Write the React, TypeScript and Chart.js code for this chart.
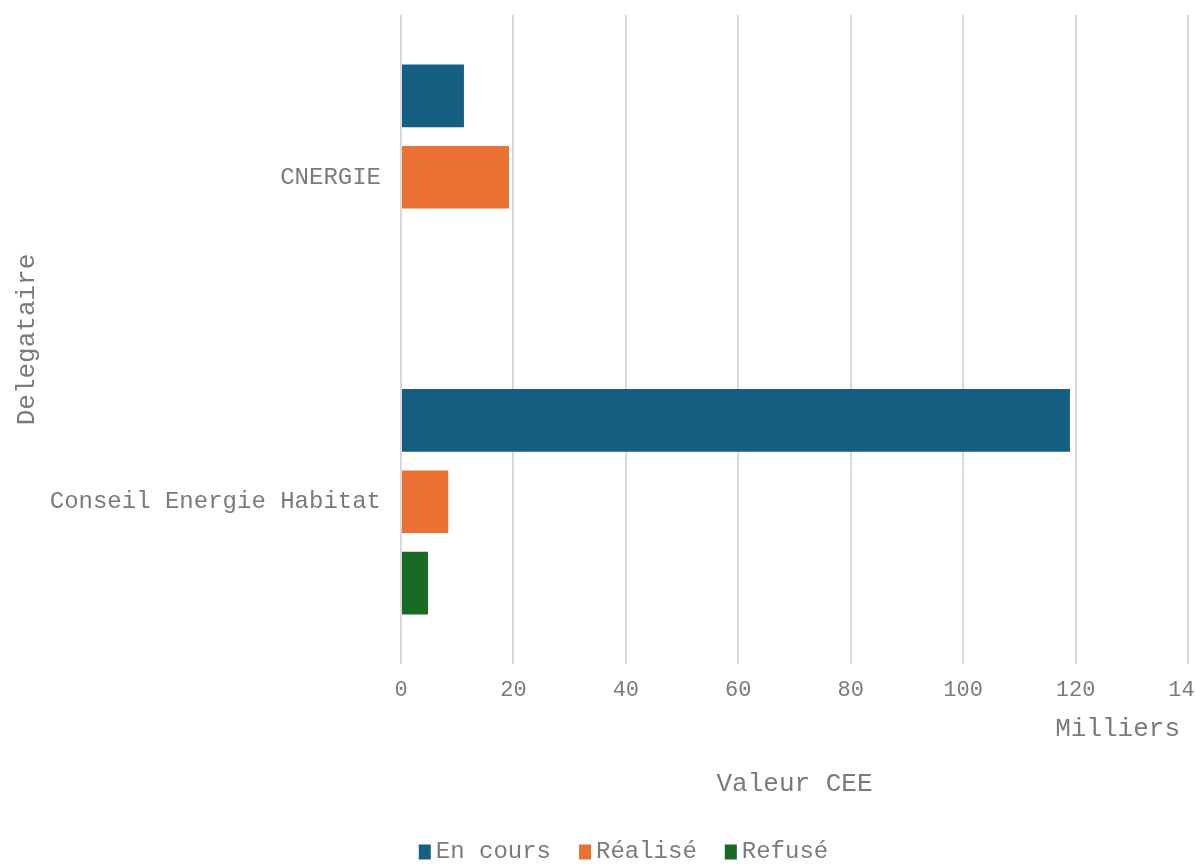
import React, { useEffect, useRef } from "react";
import { Chart, registerables } from "chart.js";

Chart.register(...registerables);

const categories = ["CNERGIE", "Conseil Energie Habitat"];
const seriesNames = ["En cours", "Réalisé", "Refusé"];
const enCours = [11.2, 119.0];
const realise = [19.2, 8.4];
const refuse: (number | null)[] = [null, 4.8];
const seriesColors = ["#156082", "#E97132", "#196B24"];
const xTicksMin = 0;
const xTicksMax = 140;
const xTickStep = 20;
const xTitle = "Valeur CEE";
const yTitle = "Delegataire";
const unitLabel = "Milliers";

const FONT = "'Liberation Mono', 'Courier New', monospace";
const TEXT = "#7a7a7a";

export default function App() {
  const ref = useRef<HTMLCanvasElement | null>(null);

  useEffect(() => {
    if (!ref.current) return;
    const extrasPlugin = {
      id: "extras",
      afterDraw(chart: any) {
        const { ctx, chartArea } = chart;
        const xs = chart.scales.x;
        ctx.save();
        // unit label
        ctx.font = `26px ${FONT}`;
        ctx.fillStyle = TEXT;
        ctx.textAlign = "right";
        ctx.textBaseline = "middle";
        ctx.fillText(unitLabel, chartArea.right - 8, xs.top + 65);
        // legend
        ctx.font = `24px ${FONT}`;
        const boxW = 12, boxH = 15, gap = 5, spacing = 28;
        const items = chart.data.datasets.map((ds: any) => ({
          label: ds.label,
          color: ds.backgroundColor,
          w: ctx.measureText(ds.label).width,
        }));
        const total =
          items.reduce((s: number, it: any) => s + boxW + gap + it.w, 0) + spacing * (items.length - 1);
        let x = chart.width / 2 + 26 - total / 2;
        const cy = chart.height - 13;
        ctx.textAlign = "left";
        items.forEach((it: any) => {
          ctx.fillStyle = it.color;
          ctx.fillRect(x, cy - boxH / 2, boxW, boxH);
          ctx.fillStyle = TEXT;
          ctx.fillText(it.label, x + boxW + gap, cy);
          x += boxW + gap + it.w + spacing;
        });
        ctx.restore();
      },
    };
    const chart = new Chart(ref.current, {
      type: "bar",
      data: {
        labels: categories,
        datasets: [
          { label: seriesNames[0], data: enCours, backgroundColor: seriesColors[0] },
          { label: seriesNames[1], data: realise, backgroundColor: seriesColors[1] },
          { label: seriesNames[2], data: refuse, backgroundColor: seriesColors[2] },
        ],
      },
      options: {
        indexAxis: "y",
        animation: false,
        responsive: false,
        maintainAspectRatio: false,
        datasets: { bar: { categoryPercentage: 0.752, barPercentage: 0.77 } },
        layout: { autoPadding: false, padding: { top: 15, right: 7, left: 0, bottom: 31 } },
        scales: {
          x: {
            min: xTicksMin,
            max: xTicksMax,
            border: { display: false },
            grid: { color: "#d9d9d9", lineWidth: 2, drawTicks: false },
            ticks: {
              stepSize: xTickStep,
              padding: 13,
              color: TEXT,
              font: { family: FONT, size: 22 },
              maxRotation: 0,
            },
            title: {
              display: true,
              text: xTitle,
              color: TEXT,
              font: { family: FONT, size: 26 },
              padding: { top: 65, bottom: 34 },
            },
            afterFit(scale: any) {
              scale.height = 170;
              scale.paddingLeft = 0;
              scale.paddingRight = 0;
              scale.paddingTop = 0;
              scale.paddingBottom = 0;
            },
          },
          y: {
            border: { display: false },
            grid: { display: false, drawTicks: false },
            ticks: {
              padding: 20,
              color: TEXT,
              font: { family: FONT, size: 24 },
            },
            title: {
              display: true,
              text: yTitle,
              color: TEXT,
              font: { family: FONT, size: 26 },
              padding: { top: 12, bottom: 8 },
            },
            afterFit(scale: any) {
              scale.width = 401;
              scale.paddingLeft = 0;
              scale.paddingRight = 0;
              scale.paddingTop = 0;
              scale.paddingBottom = 0;
            },
          },
        },
        plugins: {
          legend: { display: false },
          tooltip: { enabled: false },
        },
      },
      plugins: [extrasPlugin],
    } as any);
    return () => chart.destroy();
  }, []);

  return (
    <div style={{ position: "fixed", left: 0, top: 0, width: 1195, height: 865, background: "#fff" }}>
      <canvas ref={ref} width={1195} height={865} style={{ width: 1195, height: 865, display: "block" }} />
    </div>
  );
}
